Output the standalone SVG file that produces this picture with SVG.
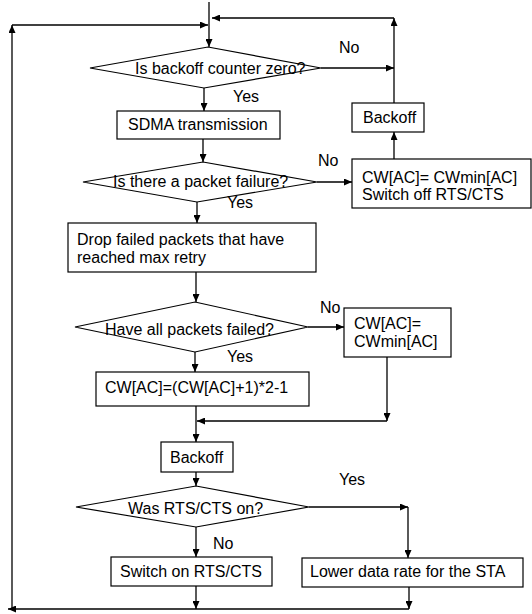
<svg xmlns="http://www.w3.org/2000/svg" width="532" height="614" viewBox="0 0 532 614">
<style>
.n{fill:#fff;stroke:#000;stroke-width:1.2}
.c{fill:none;stroke:#000;stroke-width:1.3}
.a{marker-end:url(#ah)}
text{font-family:"Liberation Sans",Arial,sans-serif;font-size:16px;fill:#000}
</style>
<defs>
<marker id="ah" markerUnits="userSpaceOnUse" markerWidth="9" markerHeight="7" refX="8" refY="3.5" orient="auto">
<path d="M0,0 L8,3.5 L0,7 z" fill="#000"/>
</marker>
</defs>
<rect width="532" height="614" fill="#fff"/>
<g id="connectors">
<path class="c a" d="M209,2 L209,47"/>
<path class="c a" d="M394,103 L394,18"/>
<path class="c a" d="M394,18 L212,18"/>
<path class="c a" d="M12,25 L208,25"/>
<path class="c a" d="M321,68 L394,68"/>
<path class="c a" d="M204,88 L204,111"/>
<path class="c a" d="M203,139 L203,162"/>
<path class="c a" d="M317,182 L352,182"/>
<path class="c a" d="M394,159 L394,132"/>
<path class="c a" d="M197,202 L197,223"/>
<path class="c a" d="M196,272 L196,302"/>
<path class="c a" d="M308,327 L344,327"/>
<path class="c a" d="M195,352 L195,372"/>
<path class="c a" d="M387,357 L387,421"/>
<path class="c a" d="M387,421 L197,421"/>
<path class="c a" d="M196,406 L196,442"/>
<path class="c a" d="M196,472 L196,486"/>
<path class="c a" d="M309,507 L408,507"/>
<path class="c a" d="M408,507 L408,558"/>
<path class="c a" d="M196,527 L196,557"/>
<path class="c a" d="M196,586 L196,609"/>
<path class="c a" d="M409,587 L409,609"/>
<path class="c a" d="M409,609 L8,609"/>
<path class="c a" d="M12,609 L12,25"/>
</g>
<g id="d1"><polygon class="n" points="208,47 321,68 204,88 90,68"/><text x="135" y="74">Is backoff counter zero?</text></g>
<g id="sdma"><rect class="n" x="117" y="111" width="163" height="28"/><text x="128" y="130">SDMA transmission</text></g>
<g id="backoff1"><rect class="n" x="352" y="103" width="72" height="29"/><text x="363" y="123">Backoff</text></g>
<g id="d2"><polygon class="n" points="203,162 317,182 197,202 83,182"/><text x="113" y="187">Is there a packet failure?</text></g>
<g id="cw1"><rect class="n" x="352" y="159" width="179" height="49"/><text x="362" y="183">CW[AC]= CWmin[AC]</text><text x="362" y="200">Switch off RTS/CTS</text></g>
<g id="drop"><rect class="n" x="68" y="223" width="248" height="49"/><text x="77" y="245">Drop failed packets that have</text><text x="77" y="263">reached max retry</text></g>
<g id="d3"><polygon class="n" points="195,302 308,327 195,352 75,327"/><text x="105" y="335">Have all packets failed?</text></g>
<g id="cwmin"><rect class="n" x="344" y="308" width="107" height="49"/><text x="354" y="329">CW[AC]=</text><text x="354" y="347">CWmin[AC]</text></g>
<g id="cw2"><rect class="n" x="96" y="372" width="213" height="34"/><text x="105" y="393">CW[AC]=(CW[AC]+1)*2-1</text></g>
<g id="backoff2"><rect class="n" x="161" y="442" width="72" height="30"/><text x="170" y="463">Backoff</text></g>
<g id="d4"><polygon class="n" points="196,486 309,507 196,527 76,507"/><text x="128" y="514">Was RTS/CTS on?</text></g>
<g id="switchon"><rect class="n" x="111" y="557" width="161" height="29"/><text x="120" y="577">Switch on RTS/CTS</text></g>
<g id="lower"><rect class="n" x="302" y="558" width="221" height="29"/><text x="310" y="577">Lower data rate for the STA</text></g>
<g id="labels">
<text x="233" y="102">Yes</text>
<text x="339" y="53">No</text>
<text x="318" y="166">No</text>
<text x="227" y="208">Yes</text>
<text x="320" y="313">No</text>
<text x="227" y="362">Yes</text>
<text x="339" y="485">Yes</text>
<text x="213" y="549">No</text>
</g>
</svg>
